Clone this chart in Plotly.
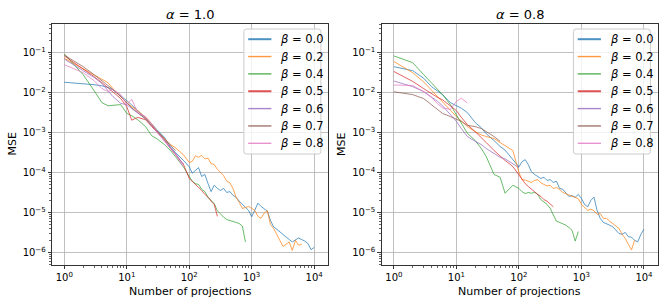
import plotly.graph_objects as go

# Number of projections (shared grid, each series uses a prefix of it)
N_GRID = [1, 2, 3, 4, 5, 6, 8, 10, 12, 15, 20, 25, 30, 40, 50, 60, 80, 100,
          112, 126, 141, 158, 178, 200, 224, 251, 282, 316, 355, 398, 447, 501,
          562, 631, 708, 794, 891, 1000, 1122, 1259, 1413, 1585, 1778, 1995,
          2239, 2512, 2818, 3162, 3548, 3981, 4467, 5012, 5623, 6310, 7079,
          7943, 8913, 10000]

BETAS = ["0.0", "0.2", "0.4", "0.5", "0.6", "0.7", "0.8"]
COLORS = ["#1f77b4", "#ff7f0e", "#2ca02c", "#d62728", "#9467bd", "#8c564b", "#e377c2"]
PANEL_TITLES = ["1.0", "0.8"]

# ---- alpha = 1.0 ----
a10_b00 = [1.82e-2, 1.70e-2, 1.58e-2, 1.48e-2, 1.35e-2, 1.17e-2, 8.51e-3, 6.31e-3, 4.90e-3, 3.55e-3,
           2.40e-3, 1.66e-3, 1.20e-3, 7.59e-4, 4.37e-4, 3.16e-4, 2.04e-4, 1.38e-4, 9.55e-5, 1.12e-4,
           1.32e-4, 7.94e-5, 8.91e-5, 5.25e-5, 3.31e-5, 4.79e-5, 3.98e-5, 3.55e-5, 3.98e-5, 3.16e-5,
           3.31e-5, 2.69e-5, 2.40e-5, 1.91e-5, 1.58e-5, 1.38e-5, 1.12e-5, 7.76e-6, 1.20e-5, 1.70e-5,
           1.41e-5, 1.26e-5, 1.07e-5, 6.31e-6, 4.37e-6, 3.80e-6, 3.24e-6, 2.82e-6, 2.45e-6, 2.09e-6,
           1.82e-6, 2.00e-6, 2.29e-6, 2.09e-6, 1.91e-6, 1.66e-6, 1.17e-6, 1.32e-6]
a10_b02 = [7.24e-2, 3.98e-2, 2.82e-2, 2.19e-2, 1.78e-2, 1.26e-2, 7.94e-3, 5.62e-3, 4.47e-3, 3.55e-3,
           2.40e-3, 1.66e-3, 1.12e-3, 7.08e-4, 5.01e-4, 4.17e-4, 2.82e-4, 1.78e-4, 1.91e-4, 2.63e-4,
           2.40e-4, 2.69e-4, 2.19e-4, 2.29e-4, 1.66e-4, 1.58e-4, 1.20e-4, 1.00e-4, 8.32e-5, 6.03e-5,
           5.50e-5, 3.98e-5, 2.40e-5, 1.78e-5, 1.26e-5, 1.32e-5, 1.41e-5, 1.26e-5, 1.12e-5, 7.94e-6,
           7.08e-6, 9.55e-6, 1.10e-5, 5.01e-6, 3.98e-6, 2.82e-6, 2.00e-6, 1.41e-6, 1.58e-6, 1.82e-6,
           1.12e-6, 2.00e-6, 1.51e-6, 1.58e-6]
a10_b04 = [9.33e-2, 2.82e-2, 1.12e-2, 5.62e-3, 4.68e-3, 4.79e-3, 5.01e-3, 3.02e-3, 2.63e-3, 2.09e-3,
           1.41e-3, 8.32e-4, 7.08e-4, 5.01e-4, 3.55e-4, 2.51e-4, 1.41e-4, 7.94e-5, 6.03e-5, 5.25e-5,
           5.01e-5, 3.80e-5, 3.31e-5, 2.40e-5, 2.00e-5, 1.66e-5, 1.10e-5, 8.91e-6, 7.59e-6, 6.61e-6,
           6.31e-6, 5.89e-6, 5.62e-6, 5.25e-6, 4.57e-6, 1.82e-6]
a10_b05 = [8.32e-2, 3.98e-2, 2.51e-2, 1.78e-2, 1.32e-2, 1.00e-2, 7.08e-3, 4.47e-3, 2.04e-3, 2.40e-3,
           2.09e-3, 1.41e-3, 1.05e-3, 6.61e-4, 3.98e-4, 2.82e-4, 1.66e-4, 7.08e-5, 6.03e-5, 5.01e-5,
           4.37e-5, 3.55e-5, 2.82e-5, 2.40e-5, 1.91e-5, 1.58e-5, 7.94e-6]
a10_b06 = [6.92e-2, 3.55e-2, 2.40e-2, 1.70e-2, 1.12e-2, 7.94e-3, 5.37e-3, 5.01e-3, 3.98e-3, 3.16e-3,
           2.24e-3, 1.51e-3, 1.05e-3, 6.31e-4, 4.17e-4, 3.02e-4, 1.58e-4]
a10_b07 = [8.71e-2, 4.47e-2, 2.82e-2, 2.00e-2, 1.51e-2, 1.20e-2, 7.94e-3, 5.62e-3, 4.17e-3, 3.16e-3,
           2.19e-3, 1.51e-3, 1.12e-3, 7.08e-4, 5.01e-4, 3.55e-4]
a10_b08 = [5.01e-2, 3.16e-2, 2.00e-2, 1.26e-2, 1.07e-2, 1.20e-2, 8.91e-3, 5.01e-3, 6.76e-3, 3.16e-3,
           2.51e-3, 1.66e-3, 1.05e-3, 6.03e-4, 3.98e-4, 2.82e-4, 1.41e-4]

# ---- alpha = 0.8 ----
a08_b00 = [4.47e-2, 3.55e-2, 2.29e-2, 1.41e-2, 1.10e-2, 8.91e-3, 5.62e-3, 4.68e-3, 4.07e-3, 3.16e-3,
           1.78e-3, 1.32e-3, 9.33e-4, 6.31e-4, 4.47e-4, 3.63e-4, 2.04e-4, 1.38e-4, 1.86e-4, 2.09e-4,
           1.58e-4, 1.05e-4, 8.91e-5, 7.94e-5, 7.08e-5, 7.59e-5, 6.31e-5, 6.61e-5, 5.62e-5, 6.03e-5,
           3.98e-5, 3.80e-5, 3.16e-5, 2.51e-5, 2.63e-5, 2.40e-5, 2.82e-5, 2.24e-5, 1.58e-5, 1.38e-5,
           2.00e-5, 2.40e-5, 1.12e-5, 7.08e-6, 5.62e-6, 5.25e-6, 4.79e-6, 4.37e-6, 3.55e-6, 2.95e-6,
           2.82e-6, 3.16e-6, 2.45e-6, 2.40e-6, 2.00e-6, 1.82e-6, 2.82e-6, 3.80e-6]
a08_b02 = [6.03e-2, 3.16e-2, 1.86e-2, 1.17e-2, 7.94e-3, 5.89e-3, 3.63e-3, 2.51e-3, 1.91e-3, 1.41e-3,
           1.05e-3, 8.71e-4, 7.94e-4, 7.08e-4, 5.62e-4, 4.79e-4, 3.55e-4, 1.00e-4, 6.61e-5, 6.46e-5,
           6.03e-5, 5.62e-5, 6.31e-5, 6.61e-5, 5.50e-5, 5.01e-5, 4.57e-5, 4.79e-5, 3.98e-5, 4.17e-5,
           3.80e-5, 3.16e-5, 2.95e-5, 2.63e-5, 2.51e-5, 2.40e-5, 2.19e-5, 1.58e-5, 1.32e-5, 1.12e-5,
           1.20e-5, 1.10e-5, 8.91e-6, 9.33e-6, 7.08e-6, 7.08e-6, 6.03e-6, 5.25e-6, 4.37e-6, 3.98e-6,
           2.82e-6, 2.24e-6, 1.58e-6, 1.15e-6, 2.00e-6]
a08_b04 = [8.32e-2, 5.62e-2, 2.82e-2, 1.78e-2, 1.20e-2, 8.91e-3, 5.01e-3, 2.75e-3, 1.70e-3, 9.55e-4,
           6.31e-4, 3.98e-4, 2.51e-4, 8.91e-5, 7.59e-5, 3.02e-5, 4.79e-5, 3.98e-5, 3.31e-5, 2.95e-5,
           3.16e-5, 3.02e-5, 3.16e-5, 2.82e-5, 2.09e-5, 1.78e-5, 1.58e-5, 1.26e-5, 8.91e-6, 6.03e-6,
           5.62e-6, 5.25e-6, 4.79e-6, 4.17e-6, 3.55e-6, 1.91e-6, 3.31e-6]
a08_b05 = [3.39e-2, 1.91e-2, 1.26e-2, 9.33e-3, 7.59e-3, 6.61e-3, 4.68e-3, 3.55e-3, 2.40e-3, 1.58e-3,
           1.05e-3, 7.59e-4, 5.62e-4, 3.55e-4, 2.51e-4, 2.00e-4, 1.41e-4, 8.91e-5, 6.61e-5, 5.25e-5,
           4.47e-5, 3.80e-5, 3.16e-5, 2.82e-5, 2.51e-5, 2.09e-5, 1.91e-5, 1.66e-5, 1.38e-5]
a08_b06 = [1.95e-2, 1.41e-2, 1.07e-2, 7.94e-3, 6.03e-3, 4.68e-3, 2.82e-3, 1.91e-3, 1.26e-3, 7.94e-4,
           6.03e-4, 5.01e-4, 3.98e-4, 3.02e-4, 2.40e-4, 2.19e-4, 1.66e-4, 1.32e-4]
a08_b07 = [1.05e-2, 8.91e-3, 7.08e-3, 5.01e-3, 3.80e-3, 3.02e-3, 2.51e-3, 2.19e-3, 1.91e-3, 1.51e-3,
           1.41e-3, 1.26e-3, 1.05e-3, 7.94e-4, 6.03e-4]
a08_b08 = [1.55e-2, 1.51e-2, 1.05e-2, 7.59e-3, 5.25e-3, 4.17e-3, 3.80e-3, 6.03e-3, 7.24e-3, 5.50e-3]

PANELS = [
    [a10_b00, a10_b02, a10_b04, a10_b05, a10_b06, a10_b07, a10_b08],
    [a08_b00, a08_b02, a08_b04, a08_b05, a08_b06, a08_b07, a08_b08],
]

X_TICKS = [1, 10, 100, 1000, 10000]
X_TICKTEXT = ["10<sup>0</sup>", "10<sup>1</sup>", "10<sup>2</sup>", "10<sup>3</sup>", "10<sup>4</sup>"]
Y_TICKS = [1e-1, 1e-2, 1e-3, 1e-4, 1e-5, 1e-6]
Y_TICKTEXT = ["10<sup>\u22121</sup>", "10<sup>\u22122</sup>", "10<sup>\u22123</sup>",
              "10<sup>\u22124</sup>", "10<sup>\u22125</sup>", "10<sup>\u22126</sup>"]

# ---------------- layout geometry (pixels) ----------------
W, H = 665, 303
FONT = "DejaVu Sans"
ML, MR, MT, MB = 52.0, 6.7, 24.0, 38.0
PW, PH = W - ML - MR, H - MT - MB
TICK_SIZE, LABEL_SIZE, LEGEND_SIZE, TITLE_SIZE = 10, 11, 11.5, 13


def fx(px):
    return (px - ML) / PW


def fy(py):
    return (H - MB - py) / PH


AX_LEFT = [(52.0, 328.3), (381.7, 658.3)]

fig = go.Figure()

for p, series in enumerate(PANELS):
    xa = "x" if p == 0 else "x2"
    ya = "y" if p == 0 else "y2"
    for i, vals in enumerate(series):
        fig.add_trace(go.Scatter(
            x=N_GRID[:len(vals)], y=vals, mode="lines",
            name="\u03b2 = " + BETAS[i],
            line=dict(color=COLORS[i], width=0.9),
            opacity=0.8, showlegend=False, hoverinfo="skip",
            xaxis=xa, yaxis=ya,
        ))

minor_x = [m * 10 ** k for k in range(0, 5) for m in range(2, 10)]
minor_y = [m * 10.0 ** k for k in range(-7, 0) for m in range(2, 10)]

common_x = dict(type="log", range=[-0.197, 4.224], tickmode="array",
                tickvals=X_TICKS, ticktext=X_TICKTEXT, automargin=False,
                ticks="outside", ticklen=3.5, tickwidth=0.8, tickcolor="black",
                showline=True, mirror=True, linecolor="black", linewidth=0.8,
                showgrid=True, gridcolor="#b0b0b0", gridwidth=0.8,
                tickfont=dict(family=FONT, size=TICK_SIZE, color="black"),
                minor=dict(tickmode="array", tickvals=minor_x, ticks="outside",
                           ticklen=2, tickwidth=0.6, tickcolor="black", showgrid=False))
common_y = dict(type="log", range=[-6.318, -0.281], tickmode="array",
                tickvals=Y_TICKS, ticktext=Y_TICKTEXT, domain=[0, 1], automargin=False,
                ticks="outside", ticklen=3.5, tickwidth=0.8, tickcolor="black",
                showline=True, mirror=True, linecolor="black", linewidth=0.8,
                showgrid=True, gridcolor="#b0b0b0", gridwidth=0.8,
                tickfont=dict(family=FONT, size=TICK_SIZE, color="black"),
                minor=dict(tickmode="array", tickvals=minor_y, ticks="outside",
                           ticklen=2, tickwidth=0.6, tickcolor="black", showgrid=False))

annotations = []
shapes = []
for p in range(2):
    x0, x1 = AX_LEFT[p]
    cx = (x0 + x1) / 2
    off = 0 if p == 0 else 329.7
    annotations.append(dict(text="<i>\u03b1</i> = " + PANEL_TITLES[p], x=fx(cx), y=fy(15),
                            xref="paper", yref="paper", showarrow=False,
                            xanchor="center", yanchor="middle",
                            font=dict(family=FONT, size=TITLE_SIZE, color="black")))
    annotations.append(dict(text="Number of projections", x=fx(cx), y=fy(291),
                            xref="paper", yref="paper", showarrow=False,
                            xanchor="center", yanchor="middle",
                            font=dict(family=FONT, size=LABEL_SIZE, color="black")))
    annotations.append(dict(text="MSE", x=fx(12 + off), y=fy(144.5),
                            xref="paper", yref="paper", showarrow=False, textangle=-90,
                            xanchor="center", yanchor="middle",
                            font=dict(family=FONT, size=LABEL_SIZE, color="black")))

    # legend box (rounded rectangle)
    bx0, bx1, by0, by1 = 244 + off, 321 + off, 29, 154
    r = 2.5
    path = (f"M {fx(bx0 + r)},{fy(by0)} L {fx(bx1 - r)},{fy(by0)} "
            f"Q {fx(bx1)},{fy(by0)} {fx(bx1)},{fy(by0 + r)} "
            f"L {fx(bx1)},{fy(by1 - r)} Q {fx(bx1)},{fy(by1)} {fx(bx1 - r)},{fy(by1)} "
            f"L {fx(bx0 + r)},{fy(by1)} Q {fx(bx0)},{fy(by1)} {fx(bx0)},{fy(by1 - r)} "
            f"L {fx(bx0)},{fy(by0 + r)} Q {fx(bx0)},{fy(by0)} {fx(bx0 + r)},{fy(by0)} Z")
    shapes.append(dict(type="path", path=path, xref="paper", yref="paper", layer="above",
                       fillcolor="rgba(255,255,255,0.8)", line=dict(color="#cccccc", width=1)))
    for i, b in enumerate(BETAS):
        yy = 39.2 + i * 17.35
        shapes.append(dict(type="line", xref="paper", yref="paper", layer="above",
                           x0=fx(248.3 + off), x1=fx(271.5 + off), y0=fy(yy), y1=fy(yy),
                           line=dict(color=COLORS[i], width=2.0 if i in (0, 3) else 1.4),
                           opacity=0.8))
        annotations.append(dict(text="<i>\u03b2</i> = " + b, x=fx(278.5 + off), y=fy(yy),
                                xref="paper", yref="paper", showarrow=False,
                                xanchor="left", yanchor="middle",
                                font=dict(family=FONT, size=LEGEND_SIZE, color="black")))

fig.update_layout(
    width=W, height=H,
    margin=dict(l=ML, r=MR, t=MT, b=MB, autoexpand=False),
    paper_bgcolor="white", plot_bgcolor="white",
    font=dict(family=FONT, size=TICK_SIZE, color="black"),
    xaxis=dict(common_x, domain=[fx(AX_LEFT[0][0]), fx(AX_LEFT[0][1])], anchor="y"),
    yaxis=dict(common_y, anchor="x"),
    xaxis2=dict(common_x, domain=[fx(AX_LEFT[1][0]), fx(AX_LEFT[1][1])], anchor="y2"),
    yaxis2=dict(common_y, anchor="x2"),
    annotations=annotations,
    shapes=shapes,
    showlegend=False,
    hovermode=False,
)

fig.write_html("out.html", config={"displayModeBar": False, "staticPlot": True})

# remove the browser's default page margin so the figure sits at (0, 0)
with open("out.html", "r", encoding="utf-8") as fh:
    html = fh.read()
html = html.replace("<head>", "<head><style>html,body{margin:0;padding:0;overflow:hidden;}</style>", 1)
with open("out.html", "w", encoding="utf-8") as fh:
    fh.write(html)
